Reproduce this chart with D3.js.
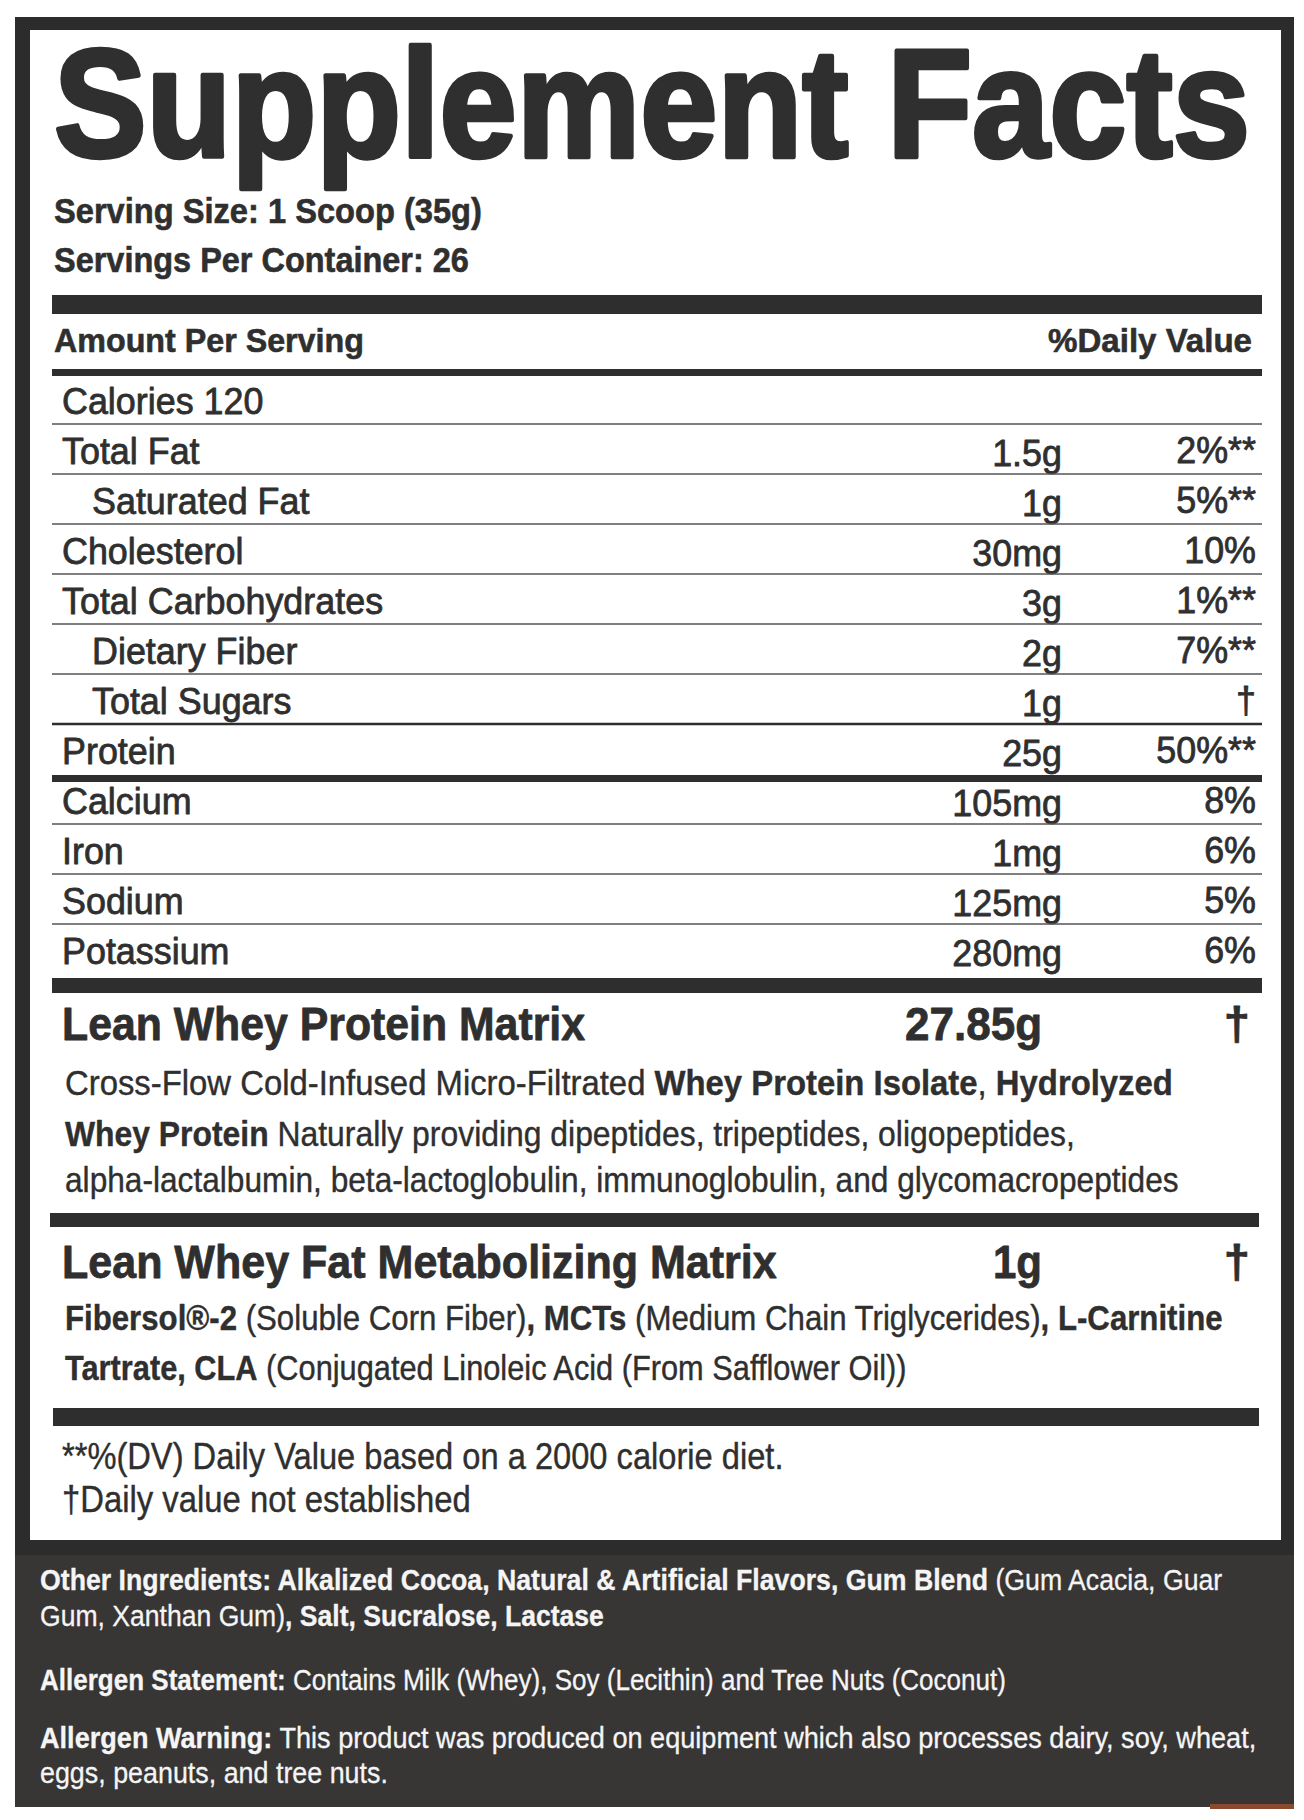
<!DOCTYPE html>
<html><head><meta charset="utf-8">
<script src="https://cdn.jsdelivr.net/npm/d3@7"></script>
<style>
html,body{margin:0;padding:0;background:#fff}
text{font-family:"Liberation Sans",Arial,Helvetica,sans-serif;white-space:pre}
</style>
</head><body>
<svg id="chart" width="1304" height="1820"></svg>
<script>
// ---------------- DATA ----------------
const title = "Supplement Facts";
const servingInfo = ["Serving Size: 1 Scoop (35g)", "Servings Per Container: 26"];
const headerLabels = ["Amount Per Serving", "%Daily Value"];
const nutrients = ["Calories 120","Total Fat","Saturated Fat","Cholesterol","Total Carbohydrates","Dietary Fiber","Total Sugars","Protein","Calcium","Iron","Sodium","Potassium"];
const amounts = ["","1.5g","1g","30mg","3g","2g","1g","25g","105mg","1mg","125mg","280mg"];
const dailyValues = ["","2%**","5%**","10%","1%**","7%**","\u2020","50%**","8%","6%","5%","6%"];
const subNutrients = ["Saturated Fat","Dietary Fiber","Total Sugars"];
const blendNames = ["Lean Whey Protein Matrix","Lean Whey Fat Metabolizing Matrix"];
const blendAmounts = ["27.85g","1g"];
const blendDV = ["\u2020","\u2020"];
// segments: [text, bold?]
const blend1Lines = [
  [["Cross-Flow Cold-Infused Micro-Filtrated ",0],["Whey Protein Isolate",1],[", ",0],["Hydrolyzed",1]],
  [["Whey Protein",1],[" Naturally providing dipeptides, tripeptides, oligopeptides,",0]],
  [["alpha-lactalbumin, beta-lactoglobulin, immunoglobulin, and glycomacropeptides",0]]
];
const blend2Lines = [
  [["Fibersol\u00AE-2",1],[" (Soluble Corn Fiber)",0],[", MCTs",1],[" (Medium Chain Triglycerides)",0],[", L-Carnitine",1]],
  [["Tartrate, CLA",1],[" (Conjugated Linoleic Acid (From Safflower Oil))",0]]
];
const footnotes = ["**%(DV) Daily Value based on a 2000 calorie diet.", "\u2020Daily value not established"];
const panelLines = [
  [["Other Ingredients: Alkalized Cocoa, Natural & Artificial Flavors, Gum Blend",1],[" (Gum Acacia, Guar",0]],
  [["Gum, Xanthan Gum)",0],[", Salt, Sucralose, Lactase",1]],
  [["Allergen Statement:",1],[" Contains Milk (Whey), Soy (Lecithin) and Tree Nuts (Coconut)",0]],
  [["Allergen Warning:",1],[" This product was produced on equipment which also processes dairy, soy, wheat,",0]],
  [["eggs, peanuts, and tree nuts.",0]]
];

// ---------------- LAYOUT ----------------
const INK = "#2f2f2f", BAR = "#2e2e2e", FRAME = "#2c2c2c", PANEL = "#383535", PANEL_TXT = "#f5f5f5";
const L = {
  frame:{x0:15,y0:17,x1:1294,y1:1807},
  white:{x0:30,y0:30,x1:1281,y1:1540},
  panel:{y0:1555},
  lineX0:52, lineX1:1262,
  labelX:62, indentX:92, amtX:1062, dvX:1256,
  rowRange:[374, 974], baseOff:40,
};
const svg = d3.select("#chart");

function addText(g, segs, size, color, weight, sw){
  const t = g.append("text").attr("x",0).attr("y",0).attr("font-size",size).attr("fill",color);
  if (sw) t.attr("stroke",color).attr("stroke-width",sw).attr("stroke-linejoin","round");
  if (typeof segs === "string") { t.attr("font-weight",weight||"normal").text(segs); }
  else segs.forEach(s => t.append("tspan").attr("font-weight", s[1] ? "bold" : "normal").text(s[0]));
  return t;
}
// place text at (x,y); horizontally scale to target width w or factor k
function place(t, x, y, opts){
  const anchor = opts.anchor || "start";
  t.attr("text-anchor", anchor);
  const nw = t.node().getComputedTextLength();
  const k = opts.w ? opts.w / nw : (opts.k || 1);
  t.attr("transform", `translate(${x},${y}) scale(${k},1)`);
  return t;
}
function bar(y0, y1, x0, x1){
  svg.append("rect").attr("x",x0??L.lineX0).attr("y",y0).attr("width",(x1??L.lineX1)-(x0??L.lineX0)).attr("height",y1-y0).attr("fill",BAR);
}

// frame
svg.append("rect").attr("x",L.frame.x0).attr("y",L.frame.y0).attr("width",L.frame.x1-L.frame.x0).attr("height",L.frame.y1-L.frame.y0).attr("fill",FRAME);
svg.append("rect").attr("x",L.white.x0).attr("y",L.white.y0).attr("width",L.white.x1-L.white.x0).attr("height",L.white.y1-L.white.y0).attr("fill","#fff");
svg.append("rect").attr("x",L.frame.x0).attr("y",L.panel.y0).attr("width",L.frame.x1-L.frame.x0).attr("height",L.frame.y1-L.panel.y0).attr("fill",PANEL);
svg.append("rect").attr("x",1210).attr("y",1804).attr("width",84).attr("height",5).attr("fill","#8a4a2e");

const g = svg.append("g");

// title
const tt = addText(g, title, 154, INK, "bold", 4.5);
place(tt, 54, 157, {w:1196});

// serving info
place(addText(g, servingInfo[0], 35, INK, "bold", 0.6), 54, 223, {w:428});
place(addText(g, servingInfo[1], 35, INK, "bold", 0.6), 54, 272, {w:415});
bar(295, 314);

// header
place(addText(g, headerLabels[0], 34, INK, "bold", 0.6), 54, 352, {w:310});
place(addText(g, headerLabels[1], 34, INK, "bold", 0.6), 1252, 352, {w:204, anchor:"end"});
bar(369, 376);

// nutrient rows
const y = d3.scaleBand().domain(nutrients).range(L.rowRange);
const K = 0.97, FS = 37, SW = 0.8;
nutrients.forEach((n, i) => {
  const by = y(n) + L.baseOff;
  const lx = subNutrients.includes(n) ? L.indentX : L.labelX;
  place(addText(g, n, FS, INK, null, SW), lx, by, {k:K});
  if (amounts[i]) place(addText(g, amounts[i], FS, INK, null, SW), L.amtX, by + 2, {k:K, anchor:"end"});
  if (dailyValues[i]) place(addText(g, dailyValues[i], FS, INK, null, SW), L.dvX, by - 1, {k:K, anchor:"end"});
  const ly = y(n) + y.step();
  if (i === nutrients.length - 1) return;
  if (n === "Protein") bar(ly + 1, ly + 8);
  else svg.append("line").attr("x1",L.lineX0).attr("x2",L.lineX1).attr("y1",ly).attr("y2",ly)
      .attr("stroke", n === "Total Sugars" ? "#2e2e2e" : "#555").attr("stroke-width", n === "Total Sugars" ? 2.6 : 1.6);
});
bar(978, 993);

// blend 1
place(addText(g, blendNames[0], 47, INK, "bold", 0.8), 62, 1040, {w:523});
place(addText(g, blendAmounts[0], 47, INK, "bold", 0.8), 1042, 1040, {w:137, anchor:"end"});
place(addText(g, blendDV[0], 47, INK, "bold", 0.8), 1250, 1040, {k:1.0, anchor:"end"});
const b1w = [1108, 1010, 1114], b1y = [1095, 1146, 1192];
blend1Lines.forEach((ln, i) => place(addText(g, ln, 35, INK, null, 0.4), 65, b1y[i], {w:b1w[i]}));
bar(1213, 1227, 50, 1259);

// blend 2
place(addText(g, blendNames[1], 47, INK, "bold", 0.8), 62, 1278, {w:715});
place(addText(g, blendAmounts[1], 47, INK, "bold", 0.8), 1042, 1278, {w:49, anchor:"end"});
place(addText(g, blendDV[1], 47, INK, "bold", 0.8), 1250, 1278, {k:1.0, anchor:"end"});
const b2w = [1158, 842], b2y = [1330, 1380];
blend2Lines.forEach((ln, i) => place(addText(g, ln, 35, INK, null, 0.4), 65, b2y[i], {w:b2w[i]}));
bar(1408, 1426, 53, 1259);

// footnotes
place(addText(g, footnotes[0], 37, INK, null, 0.4), 62, 1469, {w:722});
place(addText(g, footnotes[1], 37, INK, null, 0.4), 62, 1512, {w:409});

// bottom panel
const pw = [1183, 564, 966, 1217, 348], py = [1590, 1626, 1690, 1748, 1783];
panelLines.forEach((ln, i) => place(addText(g, ln, 30, PANEL_TXT, null, 0.3), 40, py[i], {w:pw[i]}));
</script>
</body></html>
